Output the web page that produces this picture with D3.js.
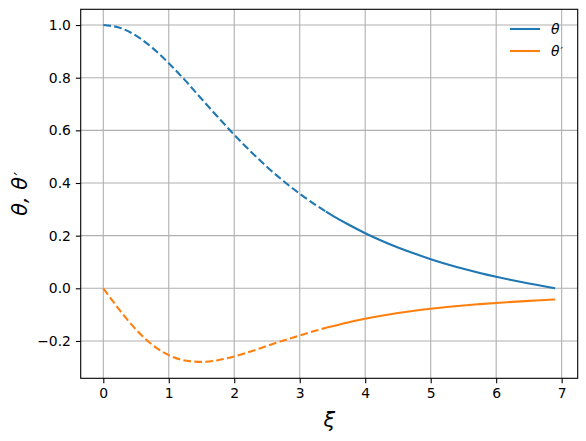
<!DOCTYPE html>
<html>
<head>
<meta charset="utf-8">
<script src="https://cdn.jsdelivr.net/npm/d3@7"></script>
<style>
  body { margin: 0; background: #fff; }
  text { font-family: "DejaVu Sans", sans-serif; }
</style>
</head>
<body>
<div id="chart"></div>
<script>
// values
var xi = [0, 0.25, 0.5, 0.75, 1.0, 1.25, 1.5, 1.75, 2.0, 2.25, 2.5, 2.75, 3.0, 3.25, 3.4, 3.5, 3.75,
          4.0, 4.25, 4.5, 4.75, 5.0, 5.25, 5.5, 5.75, 6.0, 6.25, 6.5, 6.75, 6.9];
var theta = [1.0, 0.9896, 0.9598, 0.9133, 0.8550, 0.7897, 0.7195, 0.6506, 0.5829, 0.5200, 0.4611, 0.4078,
             0.3592, 0.3155, 0.2915, 0.2763, 0.2413, 0.2093, 0.1809, 0.1551, 0.1320, 0.1108, 0.0917,
             0.0741, 0.0582, 0.0437, 0.0304, 0.0182, 0.0070, 0.0];
var dtheta = [0, -0.0826, -0.1566, -0.2150, -0.2540, -0.2745, -0.2795, -0.2730, -0.2590, -0.2400, -0.2190,
              -0.1985, -0.1790, -0.1605, -0.1500, -0.1440, -0.1290, -0.1155, -0.1040, -0.0940, -0.0850,
              -0.0775, -0.0710, -0.0650, -0.0600, -0.0555, -0.0515, -0.0478, -0.0445, -0.0424];
var splitXi = 3.4;   // dashed up to here, solid after
var xTicks = [0, 1, 2, 3, 4, 5, 6, 7];
var yTicks = [-0.2, 0.0, 0.2, 0.4, 0.6, 0.8, 1.0];
var seriesNames = ["θ", "θ"];
var seriesColors = ["#1f77b4", "#ff7f0e"];

var W = 586, H = 441;
var margin = { top: 9.3, right: 8.3, bottom: 62.7, left: 80.7 },
    width = W - margin.left - margin.right,
    height = H - margin.top - margin.bottom;

var svg = d3.select("#chart")
    .append("svg")
    .attr("width", W)
    .attr("height", H);

var g = svg.append("g")
    .attr("transform", "translate(" + margin.left + "," + margin.top + ")");

var x = d3.scaleLinear().domain([-0.345, 7.245]).range([0, width]);
var y = d3.scaleLinear().domain([-0.3418, 1.0598]).range([height, 0]);

// grid
g.append("g").selectAll("line").data(xTicks).enter().append("line")
    .attr("x1", function (d) { return x(d); }).attr("x2", function (d) { return x(d); })
    .attr("y1", 0).attr("y2", height)
    .attr("stroke", "#b0b0b0").attr("stroke-width", 1.1);
g.append("g").selectAll("line").data(yTicks).enter().append("line")
    .attr("y1", function (d) { return y(d); }).attr("y2", function (d) { return y(d); })
    .attr("x1", 0).attr("x2", width)
    .attr("stroke", "#b0b0b0").attr("stroke-width", 1.1);

// axes
var fmtY = function (d) { return d3.format(".1f")(d).replace("-", "\u2212"); };
var xAxis = g.append("g")
    .attr("transform", "translate(0," + height + ")")
    .call(d3.axisBottom(x).tickValues(xTicks).tickSize(4.9).tickPadding(4.9).tickFormat(d3.format("d")));
var yAxis = g.append("g")
    .call(d3.axisLeft(y).tickValues(yTicks).tickSize(4.9).tickPadding(4.9).tickFormat(fmtY));
[xAxis, yAxis].forEach(function (a) {
    a.select(".domain").remove();
    a.selectAll("line").attr("stroke", "#000").attr("stroke-width", 1.1);
    a.selectAll("text").attr("fill", "#000").style("font-size", "13.9px")
        .style("font-family", "'DejaVu Sans', sans-serif");
});

// lines
var line = d3.line()
    .x(function (d) { return x(d[0]); })
    .y(function (d) { return y(d[1]); })
    .curve(d3.curveMonotoneX);

[theta, dtheta].forEach(function (vals, k) {
    var pts = xi.map(function (v, i) { return [v, vals[i]]; });
    var first = pts.filter(function (p) { return p[0] <= splitXi; });
    var second = pts.filter(function (p) { return p[0] >= splitXi; });
    g.append("path")
        .attr("d", line(first))
        .attr("fill", "none")
        .attr("stroke", seriesColors[k])
        .attr("stroke-width", 2.08)
        .attr("stroke-dasharray", "7.7,3.3");
    g.append("path")
        .attr("d", line(second))
        .attr("fill", "none")
        .attr("stroke", seriesColors[k])
        .attr("stroke-width", 2.08);
});

// frame
g.append("rect")
    .attr("width", width).attr("height", height)
    .attr("fill", "none").attr("stroke", "#000").attr("stroke-width", 1.1);

// prime drawn as a small raised tick after the glyph
function withPrime(sel, size) {
    sel.append("tspan")
        .attr("dx", size * 0.08).attr("dy", -size * 0.05)
        .style("font-size", size * 0.75 + "px")
        .text("\u2032");
}

// legend
var leg = svg.append("g");
seriesNames.forEach(function (name, k) {
    var ly = 29 + k * 22;
    leg.append("line")
        .attr("x1", 510).attr("x2", 540).attr("y1", ly).attr("y2", ly)
        .attr("stroke", seriesColors[k]).attr("stroke-width", 2.08);
    var t = leg.append("text")
        .attr("x", 551).attr("y", ly + 5)
        .style("font-size", "13.9px").style("font-style", "italic")
        .text(name);
    if (k == 1) withPrime(t, 13.9);
});

// axis labels
svg.append("text")
    .attr("x", margin.left + width / 2).attr("y", 427)
    .attr("text-anchor", "middle")
    .style("font-size", "20.8px").style("font-style", "italic")
    .text("ξ");
var yl = svg.append("text")
    .attr("transform", "translate(27," + (margin.top + height / 2) + ") rotate(-90)")
    .attr("text-anchor", "middle")
    .style("font-size", "20.8px").style("font-style", "italic")
    .text("θ, θ");
withPrime(yl, 20.8);
</script>
</body>
</html>
